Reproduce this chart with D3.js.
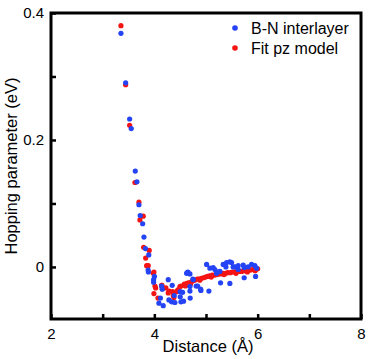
<!DOCTYPE html>
<html>
<head>
<meta charset="utf-8">
<script src="https://cdn.jsdelivr.net/npm/d3@7"></script>
<style>
  body { margin: 0; background: #fff; }
  text { font-family: "Liberation Sans", Arial, sans-serif; fill: #000; }
</style>
</head>
<body>
<svg id="chart"></svg>
<script>
// B-N interlayer hopping
const blueDist = [3.354, 3.445, 3.522, 3.553, 3.631, 3.663, 3.702, 3.727, 3.774, 3.799,
  3.828, 3.892, 3.880, 3.886, 4.002, 3.986, 3.986, 4.141, 4.153, 4.269,
  4.346, 4.118, 4.089, 4.172, 4.282, 4.335, 4.398, 4.515, 4.501, 4.501,
  4.385, 4.650, 4.689, 4.747, 4.810, 4.694, 4.625, 4.689, 4.752, 4.838,
  4.901, 5.056, 5.012, 5.075, 5.139, 5.172, 5.217, 5.282, 5.333, 5.385,
  5.398, 5.462, 5.495, 5.526, 5.623, 5.623, 5.739, 5.739, 5.816, 5.882,
  5.946, 5.979, 5.959, 5.205, 4.689, 4.547, 5.269, 5.559, 5.720, 5.462,
  4.896, 4.636, 4.565];
const blueHop = [0.368, 0.290, 0.233, 0.218, 0.151, 0.134, 0.098, 0.081, 0.068, 0.047,
  0.029, 0.019, -0.005, -0.008, -0.015, -0.020, -0.024, -0.030, -0.035, -0.020,
  -0.029, -0.049, -0.057, -0.061, -0.052, -0.055, -0.056, -0.055, -0.047, -0.039,
  -0.045, -0.008, -0.011, -0.019, -0.030, -0.049, -0.010, -0.038, -0.020, -0.030,
  -0.037, -0.038, 0.004, -0.002, -0.001, -0.004, -0.008, -0.025, 0.004, 0.000,
  0.007, -0.026, 0.007, 0.000, 0.002, -0.004, -0.001, -0.017, 0.000, 0.004,
  0.002, -0.002, -0.015, -0.010, -0.031, -0.040, -0.007, 0.000, 0.003, 0.008,
  -0.035, -0.009, -0.054];

// Fit pz model
const redDist = [3.354, 3.445, 3.522, 3.625, 3.702, 3.785, 3.721, 3.793, 3.901, 3.832,
  3.882, 3.992, 4.025, 3.992, 4.070, 4.147, 4.153, 4.288, 4.354, 4.366,
  4.379, 4.515, 4.224, 4.456, 3.851, 3.979, 4.012, 4.141, 4.495, 4.625,
  4.431, 4.269,
  4.58, 4.63, 4.66, 4.71, 4.74, 4.78, 4.83, 4.86, 4.91, 4.95,
  4.99, 5.03, 5.07, 5.12, 5.16, 5.21, 5.24, 5.29, 5.33, 5.38,
  5.42, 5.47, 5.51, 5.56, 5.60, 5.64, 5.69, 5.73, 5.77, 5.82,
  5.86, 5.90, 5.94, 5.98, 6.00, 4.70, 4.88, 5.10, 5.35, 5.58,
  5.80, 5.95, 4.60];
const redHop = [0.380, 0.287, 0.223, 0.133, 0.102, 0.080, 0.074, 0.031, 0.026, 0.014,
  0.002, -0.008, -0.033, -0.042, -0.049, -0.029, -0.034, -0.038, -0.039, -0.045,
  -0.048, -0.030, -0.033, -0.036, 0.002, -0.010, -0.030, -0.029, -0.031, -0.028,
  -0.039, -0.041,
  -0.027, -0.026, -0.025, -0.024, -0.022, -0.021, -0.019, -0.019, -0.018, -0.017,
  -0.016, -0.015, -0.014, -0.013, -0.013, -0.012, -0.011, -0.011, -0.010, -0.010,
  -0.009, -0.009, -0.008, -0.008, -0.007, -0.007, -0.007, -0.006, -0.006, -0.005,
  -0.005, -0.004, -0.004, -0.003, -0.003, -0.027, -0.021, -0.016, -0.012, -0.010,
  -0.008, -0.006, -0.030];

const xMajor = [2, 4, 6, 8];
const xMinor = [3, 5, 7];
const yMajor = [0, 0.2, 0.4];
const yMinor = [0.1, 0.3];
const seriesNames = ["B-N interlayer", "Fit pz model"];
const seriesColors = ["#2443f5", "#f51414"];

const width = 370;
const height = 359;
const margin = { top: 13, right: 9, bottom: 40, left: 51 };

const svg = d3.select("#chart").attr("width", width).attr("height", height);

const x = d3.scaleLinear().domain([2, 8]).range([margin.left, width - margin.right]);
const y = d3.scaleLinear().domain([-0.082, 0.4]).range([height - margin.bottom, margin.top]);

const plotBottom = height - margin.bottom;

// points: fit first, data on top
const red = redDist.map((d, i) => ({ d, h: redHop[i] }));
const blue = blueDist.map((d, i) => ({ d, h: blueHop[i] }));

svg.append("g")
  .selectAll("circle")
  .data(red)
  .enter()
  .append("circle")
  .attr("cx", (p) => x(p.d))
  .attr("cy", (p) => y(p.h))
  .attr("r", 2.6)
  .attr("fill", seriesColors[1]);

svg.append("g")
  .selectAll("circle")
  .data(blue)
  .enter()
  .append("circle")
  .attr("cx", (p) => x(p.d))
  .attr("cy", (p) => y(p.h))
  .attr("r", 2.6)
  .attr("fill", seriesColors[0]);

// x axis (ticks pointing inward)
const xAxis = svg.append("g")
  .attr("transform", `translate(0, ${plotBottom})`)
  .call(d3.axisBottom(x).tickValues(xMajor.concat(xMinor))
    .tickSize(-5).tickSizeOuter(0)
    .tickFormat((d) => (xMajor.includes(d) ? d3.format("d")(d) : "")));
xAxis.select(".domain").remove();
xAxis.selectAll(".tick line").attr("stroke-width", 2.5);
xAxis.selectAll(".tick text")
  .attr("y", 9)
  .attr("font-size", 15)
  .attr("font-family", "Liberation Sans, Arial, sans-serif");

const yAxis = svg.append("g")
  .attr("transform", `translate(${margin.left}, 0)`)
  .call(d3.axisLeft(y).tickValues(yMajor.concat(yMinor))
    .tickSize(-5).tickSizeOuter(0)
    .tickFormat((d) => (yMajor.includes(d) ? (d === 0 ? "0" : d3.format(".1f")(d)) : "")));
yAxis.select(".domain").remove();
yAxis.selectAll(".tick line").attr("stroke-width", 2.5);
yAxis.selectAll(".tick text")
  .attr("x", -7)
  .attr("font-size", 15)
  .attr("font-family", "Liberation Sans, Arial, sans-serif");

// frame
svg.append("rect")
  .attr("x", margin.left)
  .attr("y", margin.top)
  .attr("width", width - margin.left - margin.right)
  .attr("height", plotBottom - margin.top)
  .attr("fill", "none")
  .attr("stroke", "#000")
  .attr("stroke-width", 3);

// axis titles
svg.append("text")
  .attr("x", 208)
  .attr("y", 352)
  .attr("text-anchor", "middle")
  .attr("font-size", 16.5)
  .text("Distance (Å)");

svg.append("text")
  .attr("transform", `translate(17, ${(margin.top + plotBottom) / 2}) rotate(-90)`)
  .attr("text-anchor", "middle")
  .attr("font-size", 16.5)
  .text("Hopping parameter (eV)");

// legend
const legend = svg.append("g").attr("transform", "translate(235, 28)");
const rows = legend.selectAll("g")
  .data(seriesNames)
  .enter()
  .append("g")
  .attr("transform", (d, i) => `translate(0, ${i * 20})`);
rows.append("circle")
  .attr("r", 2.8)
  .attr("fill", (d, i) => seriesColors[i]);
rows.append("text")
  .attr("x", 16)
  .attr("dy", "0.35em")
  .attr("font-size", 16)
  .text((d) => d);
</script>
</body>
</html>
